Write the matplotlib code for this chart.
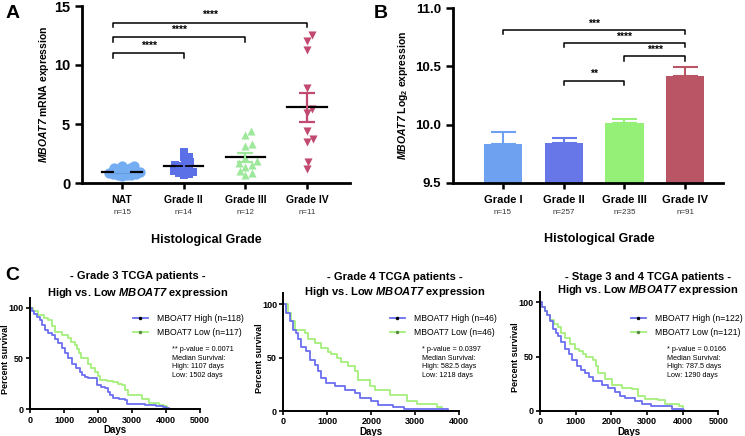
import numpy as np
import matplotlib
matplotlib.use('Agg')
import matplotlib.pyplot as plt
import matplotlib.transforms as mtransforms
from matplotlib.lines import Line2D

plt.rcParams['font.family'] = ['Liberation Sans', 'DejaVu Sans']
plt.rcParams['mathtext.fontset'] = 'custom'
plt.rcParams['mathtext.rm'] = 'Liberation Sans'
plt.rcParams['mathtext.it'] = 'Liberation Sans:italic'
plt.rcParams['mathtext.bf'] = 'Liberation Sans:bold'
plt.rcParams['mathtext.bfit'] = 'Liberation Sans:italic:bold'

# ---- Panel A : mRNA expression per grade ----
a_groups = ['NAT', 'Grade II', 'Grade III', 'Grade IV']
a_n = ['n=15', 'n=14', 'n=12', 'n=11']
a_nat = [1.40, 1.30, 1.15, 1.00, 0.90, 0.80, 0.72, 0.65, 0.60, 0.68, 0.78, 0.88, 1.05, 1.25, 1.40]
a_g2 = [2.18, 2.65, 2.23, 1.75, 1.62, 1.55, 1.45, 1.30, 1.15, 1.05, 0.95, 0.85, 0.75, 0.70]
a_g3 = [4.40, 4.07, 3.28, 3.13, 2.10, 1.89, 1.67, 1.50, 1.38, 1.02, 0.87, 0.68]
a_g4 = [12.50, 12.06, 11.30, 8.05, 6.27, 5.90, 4.40, 3.70, 3.47, 1.75, 1.16]
a_colors = ['#74adf2', '#5b6fe6', '#9de89a', '#c24a70']
a_markers = ['o', 's', '^', 'v']
a_sig = [(0, 1, '****'), (0, 2, '****'), (0, 3, '****')]

# ---- Panel B : log2 expression bars ----
b_groups = ['Grade I', 'Grade II', 'Grade III', 'Grade IV']
b_n = ['n=15', 'n=257', 'n=235', 'n=91']
b_mean = [9.83, 9.845, 10.01, 10.42]
b_err = [0.105, 0.043, 0.040, 0.075]
b_colors = ['#6fa1f1', '#6777e8', '#94f076', '#ba5566']
b_sig = [(1, 2, '**'), (2, 3, '****'), (1, 3, '****'), (0, 3, '***')]

# ---- Panel C : Kaplan-Meier curves ----
g3_high_t = [0, 60, 130, 200, 294, 360, 441, 540, 637, 735, 833, 930, 1029, 1127, 1225, 1350, 1470, 1540,
             1618, 1700, 1862, 1960, 2080, 2206, 2280, 2353, 2450, 2620, 2794, 2843, 3382, 3700, 3900, 4000, 4080]
g3_high_s = [100, 97, 94, 91, 88, 83, 78, 75, 73, 69, 65, 60, 55, 50, 45, 41, 37, 34,
             32, 31, 30.5, 24, 22, 20.7, 17, 14, 10.8, 10, 9, 5, 4, 3, 2, 1, 0]
g3_low_t = [0, 100, 245, 400, 539, 640, 735, 930, 1127, 1220, 1323, 1390, 1440, 1502, 1716, 1800, 1912, 1990,
            2059, 2250, 2450, 2600, 2696, 2800, 2892, 3300, 3500, 3800, 3950, 4040]
g3_low_s = [100, 97, 93, 90, 88, 82, 76, 73, 70, 66, 63, 59, 55, 50, 45, 41, 37, 33,
            29, 28, 27, 25, 24, 19, 14, 10, 6, 4, 3, 0]
g4_high_t = [0, 68, 144, 220, 296, 334, 409, 523, 599, 712, 788, 864, 978, 1167, 1395, 1622, 1736, 2001,
             2153, 2494, 2750, 3750]
g4_high_s = [100, 92, 84, 76, 73, 67, 60, 56, 48, 43, 37, 31, 26, 23, 20, 17, 12, 9, 6, 4, 2, 0]
g4_low_t = [0, 100, 182, 258, 485, 561, 712, 864, 1016, 1092, 1218, 1319, 1470, 1622, 1698, 1963, 2077, 2418,
            2805, 3032, 3487, 3600]
g4_low_s = [100, 92, 84, 76, 73, 67, 64, 59, 55, 53, 50, 46, 42, 37, 29, 23, 20, 15, 9, 7, 4, 0]
s34_high_t = [0, 70, 140, 210, 280, 374, 450, 514, 600, 700, 800, 887, 1027, 1140, 1261, 1380, 1494, 1728,
              1915, 2102, 2250, 2382, 2662, 2849, 3100, 3700, 4000, 4050]
s34_high_s = [100, 96, 92, 88, 83, 75, 72, 69, 63, 57, 52, 47, 41, 38, 35, 31, 27, 24,
              21, 17, 14, 12, 9, 6, 4, 2, 1, 0]
s34_low_t = [0, 70, 140, 210, 280, 400, 514, 600, 700, 840, 981, 1100, 1200, 1290, 1494, 1560, 1635, 1822,
             2009, 2289, 2569, 2755, 2942, 3300, 3500, 3900, 4000]
s34_low_s = [100, 96, 92, 88, 84, 80, 77, 72, 67, 62, 57, 55, 52, 50, 47, 41, 35, 29,
             24, 21, 20, 14, 10.5, 10, 6, 4, 0]

km_titles = ['- Grade 3 TCGA patients -', '- Grade 4 TCGA patients -', '- Stage 3 and 4 TCGA patients -']
km_labels = [('MBOAT7 High (n=118)', 'MBOAT7 Low (n=117)'),
             ('MBOAT7 High (n=46)', 'MBOAT7 Low (n=46)'),
             ('MBOAT7 High (n=122)', 'MBOAT7 Low (n=121)')]
km_notes = ['** p-value = 0.0071\nMedian Survival:\nHigh: 1107 days\nLow: 1502 days',
            '* p-value = 0.0397\nMedian Survival:\nHigh: 582.5 days\nLow: 1218 days',
            '* p-value = 0.0166\nMedian Survival:\nHigh: 787.5 days\nLow: 1290 days']
km_xmax = [5000, 4000, 5000]
km_data = [(g3_high_t, g3_high_s, g3_low_t, g3_low_s),
           (g4_high_t, g4_high_s, g4_low_t, g4_low_s),
           (s34_high_t, s34_high_s, s34_low_t, s34_low_s)]
col_high = '#6b6ef0'
col_low = '#a5ef7c'

W, H = 745, 436
fig = plt.figure(figsize=(W / 100, H / 100), dpi=100)


def rect(x0, y0, x1, y1):
    # pixel box (top-left origin) -> figure fraction
    return [x0 / W, 1 - y1 / H, (x1 - x0) / W, (y1 - y0) / H]


def ftext(x, y, s, **kw):
    fig.text(x / W, 1 - y / H, s, **kw)


def swarm(ax, xc, vals, d):
    # simple beeswarm placement in pixel space
    pts = []
    offs = np.zeros(len(vals))
    order = np.argsort(vals)
    sx = ax.transData.transform([(1, 0)])[0][0] - ax.transData.transform([(0, 0)])[0][0]
    sy = ax.transData.transform([(0, 1)])[0][1] - ax.transData.transform([(0, 0)])[0][1]
    steps = np.arange(0.5, 60, 0.5)
    cands = np.concatenate([[0], np.ravel(np.column_stack([steps, -steps]))])
    for i in order:
        y = vals[i] * sy
        for c in cands:
            if all((c - px_) ** 2 + (y - py_) ** 2 >= d * d for px_, py_ in pts):
                pts.append((c, y))
                offs[i] = c / sx
                break
    return xc + offs


# ================= Panel A =================
axA = fig.add_axes(rect(82, 6, 350, 183))
axA.set_xlim(-0.65, 3.7)
axA.set_ylim(0, 15)
swarm_d = [4.2, 5.0, 6.5, 7.0]
for i, vals in enumerate([a_nat, a_g2, a_g3, a_g4]):
    vals = np.array(vals)
    xs = swarm(axA, i, vals, swarm_d[i])
    ms = 55 if a_markers[i] == 'o' else 34
    axA.scatter(xs, vals, s=ms, marker=a_markers[i], color=a_colors[i], linewidths=0, zorder=3, clip_on=False)
    m = vals.mean()
    sem = vals.std(ddof=1) / np.sqrt(len(vals))
    axA.plot([i - 0.32, i + 0.32], [m, m], color='black', lw=1.6, zorder=4)
    axA.errorbar([i], [m], yerr=[sem], color=a_colors[i], capsize=6, capthick=1.6, elinewidth=1.6, zorder=4)

a_heights = [11.0, 12.35, 13.6]
for (g0, g1, lab), h in zip(a_sig, a_heights):
    x0 = g0 - 0.14
    axA.plot([x0, x0, g1, g1], [h - 0.4, h, h, h - 0.4], color='black', lw=1.1, clip_on=False)
    axA.text((x0 + g1) / 2, h + 0.2, lab, ha='center', va='bottom', fontsize=7.5, fontweight='bold')

axA.set_yticks([0, 5, 10, 15])
axA.set_xticks(range(4))
axA.set_xticklabels([])
axA.tick_params(axis='y', labelsize=10.5, width=1.8, length=5)
axA.tick_params(axis='x', width=1.8, length=4)
for lab in axA.get_yticklabels():
    lab.set_fontweight('bold')
axA.spines[['top', 'right']].set_visible(False)
axA.spines[['left', 'bottom']].set_linewidth(2)
axA.set_ylabel(r'$\mathbfit{MBOAT7}$ mRNA expression', fontsize=7.5, fontweight='bold', labelpad=2)

trA = mtransforms.blended_transform_factory(axA.transData, fig.transFigure)
for i in range(4):
    axA.text(i, 1 - 200 / H, a_groups[i], transform=trA, ha='center', va='center', fontsize=7.5, fontweight='bold')
    axA.text(i, 1 - 212.5 / H, a_n[i], transform=trA, ha='center', va='center', fontsize=5.8, color='#333333')
ftext(206, 240, 'Histological Grade', ha='center', va='center', fontsize=9, fontweight='bold')
ftext(13, 14, 'A', ha='center', va='center', fontsize=14, fontweight='bold')

# ================= Panel B =================
axB = fig.add_axes(rect(453, 8.3, 723, 182.7))
xb = np.arange(4)
axB.bar(xb, b_mean, width=0.63, color=b_colors, zorder=2)
for i in range(4):
    axB.errorbar([xb[i]], [b_mean[i]], yerr=[[0], [b_err[i]]], color=b_colors[i], capsize=9,
                 capthick=1.5, elinewidth=1.5, zorder=2)
axB.set_xlim(-0.82, 3.62)
axB.set_ylim(9.5, 11.0)

b_heights = [10.377, 10.586, 10.70, 10.81]
for (g0, g1, lab), h in zip(b_sig, b_heights):
    axB.plot([g0, g0, g1, g1], [h - 0.035, h, h, h - 0.035], color='black', lw=1.1)
    axB.text((g0 + g1) / 2, h + 0.015, lab, ha='center', va='bottom', fontsize=7.5, fontweight='bold')

axB.set_yticks([9.5, 10.0, 10.5, 11.0])
axB.set_yticklabels(['9.5', '10.0', '10.5', '11.0'])
axB.set_xticks(xb)
axB.set_xticklabels([])
axB.tick_params(axis='y', labelsize=9.5, width=1.8, length=5)
axB.tick_params(axis='x', width=1.8, length=4)
for lab in axB.get_yticklabels():
    lab.set_fontweight('bold')
axB.spines[['top', 'right']].set_visible(False)
axB.spines[['left', 'bottom']].set_linewidth(2)
axB.set_ylabel(r'$\mathbfit{MBOAT7}$ Log$_\mathbf{2}$ expression', fontsize=7.5, fontweight='bold', labelpad=4)

trB = mtransforms.blended_transform_factory(axB.transData, fig.transFigure)
for i in range(4):
    axB.text(i, 1 - 200 / H, b_groups[i], transform=trB, ha='center', va='center', fontsize=8, fontweight='bold')
    axB.text(i, 1 - 212.5 / H, b_n[i], transform=trB, ha='center', va='center', fontsize=5.8, color='#333333')
ftext(599, 239, 'Histological Grade', ha='center', va='center', fontsize=9, fontweight='bold')
ftext(381, 14, 'B', ha='center', va='center', fontsize=14, fontweight='bold')

# ================= Panel C =================
km_boxes = [(30, 297.5, 200, 409.3), (283.3, 293.3, 459.3, 411), (540, 291.5, 718.3, 410.7)]
title_pos = [(138, 276, 292.5), (395, 276.7, 291.7), (648, 276.7, 290)]
legend_pos = [(133, 314), (390, 314.3), (631, 314.3)]
note_pos = [(172, 346), (421.7, 346), (666.7, 346)]

for k in range(3):
    box = km_boxes[k]
    ax = fig.add_axes(rect(*box))
    ht, hs, lt, ls = km_data[k]
    ax.plot(lt, ls, drawstyle='steps-post', color=col_low, lw=1.3, clip_on=False)
    ax.plot(ht, hs, drawstyle='steps-post', color=col_high, lw=1.3, clip_on=False)
    ax.set_xlim(0, km_xmax[k])
    ax.set_ylim(0, 110)
    ax.set_xticks(np.arange(0, km_xmax[k] + 1, 1000))
    ax.set_yticks([0, 50, 100])
    ax.tick_params(labelsize=6.5, width=1.2, length=3, pad=1.5)
    for lab in ax.get_xticklabels() + ax.get_yticklabels():
        lab.set_fontweight('bold')
    ax.spines[['top', 'right']].set_visible(False)
    ax.spines[['left', 'bottom']].set_linewidth(1.4)
    ax.set_ylabel('Percent survival', fontsize=6.5, fontweight='bold')
    ax.yaxis.set_label_coords(-19.5 / (box[2] - box[0]), 0.45)
    ax.set_xlabel('Days', fontsize=7, fontweight='bold', labelpad=0.5)

    tx, ty1, ty2 = title_pos[k]
    ftext(tx, ty1, km_titles[k], ha='center', va='center', fontsize=8, fontweight='bold')
    ftext(tx, ty2, r'High vs. Low $\mathbfit{MBOAT7}$ expression', ha='center', va='center',
          fontsize=8, fontweight='bold')

    handles = [Line2D([], [], color=col_high, lw=1.3, marker='.', ms=3, mfc='black', mec='black'),
               Line2D([], [], color=col_low, lw=1.3, marker='.', ms=3, mfc='#5a8a40', mec='#5a8a40')]
    lx, ly = legend_pos[k]
    ax.legend(handles, km_labels[k], loc='upper left', bbox_to_anchor=(lx / W, 1 - ly / H),
              bbox_transform=fig.transFigure, frameon=False, fontsize=6.2, handlelength=1.7,
              handletextpad=1.1, labelspacing=0.6, borderpad=0, borderaxespad=0)
    nx, ny = note_pos[k]
    ftext(nx, ny, km_notes[k], ha='left', va='top', fontsize=5.2, linespacing=1.3)

ftext(12, 276, 'C', ha='center', va='center', fontsize=14, fontweight='bold')

fig.savefig('out.png', dpi=100)
